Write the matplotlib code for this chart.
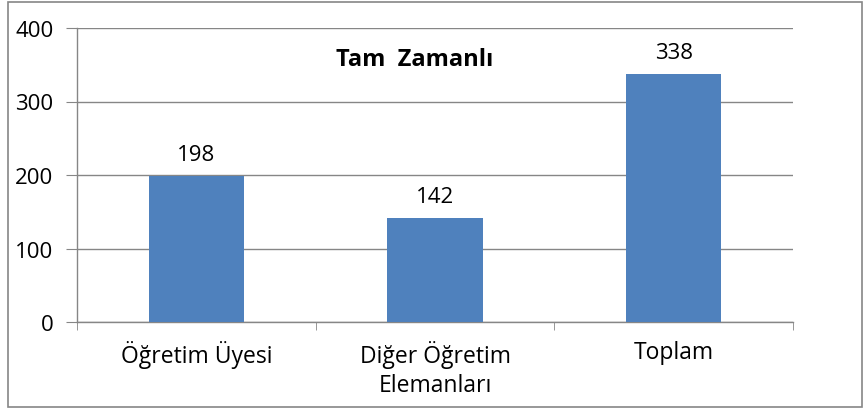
import matplotlib.pyplot as plt
from matplotlib.patches import Rectangle

categories = ['Öğretim Üyesi', 'Diğer Öğretim\nElemanları', 'Toplam']
values = [198, 142, 338]
yticks = [0, 100, 200, 300, 400]

plt.rcParams['font.family'] = ['Open Sans', 'DejaVu Sans']

fig = plt.figure(figsize=(8.68, 4.10), dpi=100)
fig.patches.append(Rectangle((8 / 868, 2 / 410), 854 / 868, 405 / 410,
                             transform=fig.transFigure, fill=False,
                             edgecolor='#868686', linewidth=1.2))
ax = fig.add_axes([77 / 868, 87 / 410, 716 / 868, 294 / 410])

x = range(len(categories))
bars = ax.bar(x, values, width=0.4, color='#4F81BD', zorder=3)
for i, v in enumerate(values):
    ax.text(i, v + 15, str(v), ha='center', va='bottom', fontsize=16)

ax.set_xlim(-0.5, len(categories) - 0.5)
ax.set_ylim(0, 400)
ax.set_yticks(yticks)
ax.set_xticks(list(x))
ax.set_xticklabels(categories, fontsize=16.5, linespacing=1.3)
ax.set_xticks([-0.5, 0.5, 1.5, 2.5], minor=True)
ax.tick_params(axis='x', which='major', length=0, pad=13)
ax.tick_params(axis='x', which='minor', length=6, color='#868686', direction='out')
ax.tick_params(axis='y', length=8, color='#868686', labelsize=16, pad=9)
ax.grid(axis='y', color='#868686', linewidth=1, zorder=0)
for s in ['top', 'right']:
    ax.spines[s].set_visible(False)
for s in ['left', 'bottom']:
    ax.spines[s].set_color('#868686')
    ax.spines[s].set_linewidth(1)

ax.text(0.472, 0.895, 'Tam  Zamanlı', transform=ax.transAxes, ha='center',
        va='center', fontsize=17, fontweight='bold')

fig.savefig('out.png', dpi=100)
